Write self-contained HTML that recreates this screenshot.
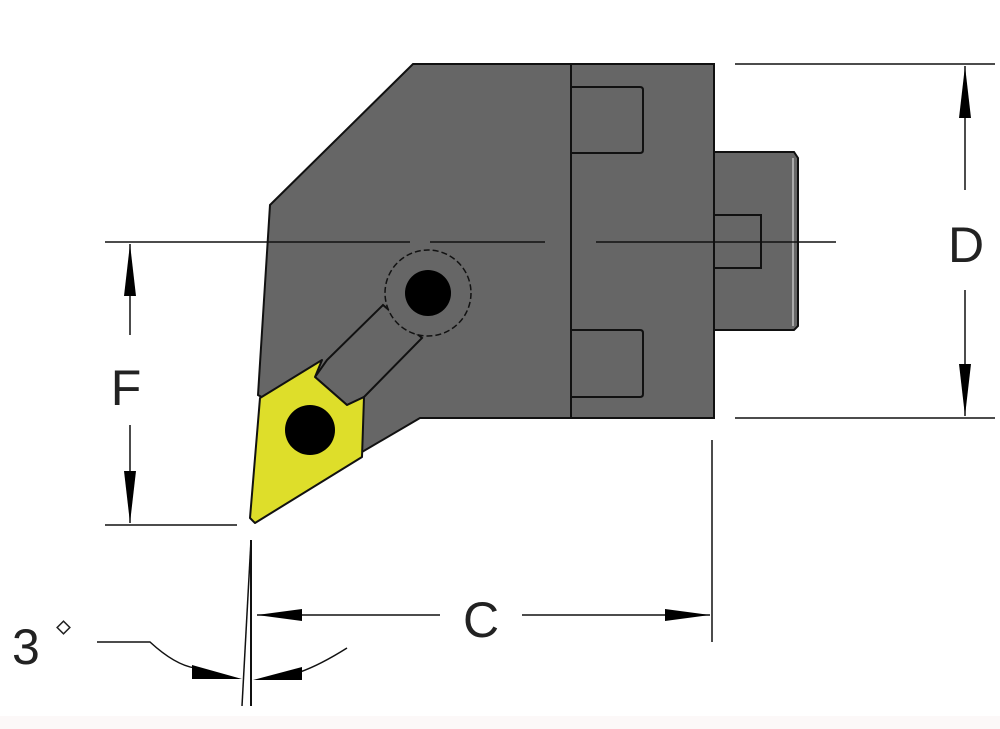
<!DOCTYPE html>
<html><head><style>
html,body{margin:0;padding:0;background:#fff;}
svg{display:block;}
text{font-family:"Liberation Sans",sans-serif;}
</style></head><body>
<svg width="1000" height="729" viewBox="0 0 1000 729" xmlns="http://www.w3.org/2000/svg">
<rect x="0" y="0" width="1000" height="729" fill="#fff"/>
<rect x="0" y="716" width="1000" height="13" fill="#fcf8f8"/>
<!-- body -->
<polygon points="413,64 714,64 714,418 420,418 362,452 258,395 270,205" fill="#666" stroke="#111" stroke-width="2"/>
<line x1="571" y1="64" x2="571" y2="418" stroke="#111" stroke-width="2"/>
<path d="M571,87 H640 Q643,87 643,90 V150 Q643,153 640,153 H571" fill="none" stroke="#111" stroke-width="2"/>
<path d="M571,330 H640 Q643,330 643,333 V394 Q643,397 640,397 H571" fill="none" stroke="#111" stroke-width="2"/>
<!-- shank -->
<polygon points="714,152 794,152 798,158 798,326 794,330 714,330" fill="#666" stroke="#111" stroke-width="2"/>
<line x1="793" y1="158" x2="793" y2="326" stroke="#aaa" stroke-width="2"/>
<path d="M714,215 H761 V268 H714" fill="none" stroke="#111" stroke-width="2"/>
<!-- center line -->
<line x1="105" y1="242" x2="410" y2="242" stroke="#111" stroke-width="1.5"/>
<line x1="430" y1="242" x2="545" y2="242" stroke="#111" stroke-width="1.5"/>
<line x1="596" y1="242" x2="836" y2="242" stroke="#111" stroke-width="1.5"/>
<!-- arm -->
<polygon points="383,305 327,360 315,377 347,405 364,397 422,338" fill="#666" stroke="#111" stroke-width="2"/>
<!-- clamp -->
<circle cx="428" cy="293" r="43" fill="#666" stroke="#111" stroke-width="1.5" stroke-dasharray="6,3"/>
<circle cx="428" cy="293" r="23" fill="#000"/>
<!-- insert -->
<polygon points="260,398 322,360 315,377 347,405 364,397 362,457 255,523 250,518" fill="#dede2a" stroke="#111" stroke-width="2" stroke-linejoin="round"/>
<circle cx="310" cy="430" r="25" fill="#000"/>
<!-- D dimension -->
<line x1="735" y1="64" x2="995" y2="64" stroke="#111" stroke-width="1.5"/>
<line x1="735" y1="418" x2="995" y2="418" stroke="#111" stroke-width="1.5"/>
<line x1="965" y1="66" x2="965" y2="190" stroke="#111" stroke-width="1.5"/>
<line x1="965" y1="290" x2="965" y2="416" stroke="#111" stroke-width="1.5"/>
<polygon points="965,66 959,118 971,118" fill="#000"/>
<polygon points="965,416 959,364 971,364" fill="#000"/>
<text x="966" y="262" font-size="50" text-anchor="middle" fill="#222" font-weight="300">D</text>
<!-- F dimension -->
<line x1="105" y1="525" x2="237" y2="525" stroke="#111" stroke-width="1.5"/>
<line x1="130" y1="244" x2="130" y2="335" stroke="#111" stroke-width="1.5"/>
<line x1="130" y1="425" x2="130" y2="523" stroke="#111" stroke-width="1.5"/>
<polygon points="130,244 124,296 136,296" fill="#000"/>
<polygon points="130,523 124,471 136,471" fill="#000"/>
<text x="126" y="405" font-size="50" text-anchor="middle" fill="#222">F</text>
<!-- C dimension -->
<line x1="712" y1="440" x2="712" y2="642" stroke="#111" stroke-width="1.5"/>
<line x1="257" y1="615" x2="440" y2="615" stroke="#111" stroke-width="1.5"/>
<line x1="522" y1="615" x2="710" y2="615" stroke="#111" stroke-width="1.5"/>
<polygon points="257,615 302,609 302,621" fill="#000"/>
<polygon points="710,615 665,609 665,621" fill="#000"/>
<text x="481" y="637" font-size="50" text-anchor="middle" fill="#222">C</text>
<!-- angle -->
<line x1="251" y1="540" x2="251" y2="706" stroke="#111" stroke-width="2"/>
<line x1="251" y1="540" x2="242" y2="706" stroke="#111" stroke-width="1.5"/>
<path d="M97,642 H150 Q175,665 195,668" fill="none" stroke="#111" stroke-width="1.5"/>
<polygon points="242,679 192,665 192,679" fill="#000"/>
<path d="M347,648 Q320,665 300,672" fill="none" stroke="#111" stroke-width="1.5"/>
<polygon points="253,680 302,667 302,680" fill="#000"/>
<text x="12" y="664" font-size="50" fill="#222">3</text>
<rect x="59" y="623" width="9" height="9" fill="none" stroke="#222" stroke-width="1.5" transform="rotate(45 63.5 627.5)"/>
</svg>
</body></html>
